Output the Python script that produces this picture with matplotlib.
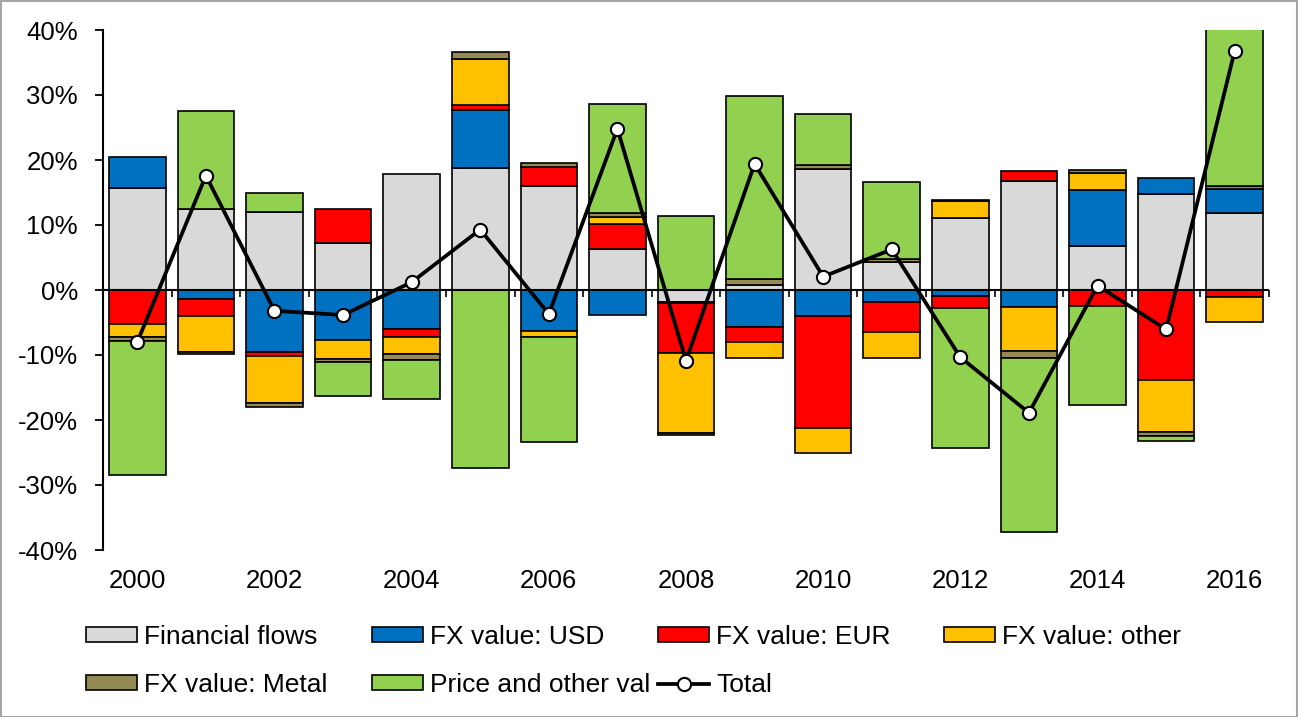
import matplotlib
matplotlib.use("Agg")
import matplotlib.pyplot as plt
from matplotlib.patches import Patch, Rectangle
from matplotlib.lines import Line2D
from matplotlib.ticker import FuncFormatter
import numpy as np

plt.rcParams['font.family'] = ['Liberation Sans', 'DejaVu Sans']
plt.rcParams['axes.unicode_minus'] = False

# ---- data (percent) ----
years = list(range(2000, 2017))
financial = [15.7, 12.4, 12.0, 7.3, 17.8, 18.8, 16.0, 6.3, -1.8, 0.8, 18.6, 4.25, 11.1, 16.75, 6.75, 14.75, 11.9]
usd = [4.7, -1.4, -9.6, -7.7, -6.0, 8.9, -6.3, -3.85, -0.2, -5.65, -3.95, -1.8, -0.9, -2.65, 8.65, 2.45, 3.7]
eur = [-5.3, -2.6, -0.5, 5.1, -1.2, 0.8, 3.0, 3.85, -7.75, -2.3, -17.35, -4.6, -1.9, 1.6, -2.45, -13.85, -1.0]
other = [-1.9, -5.6, -7.3, -2.9, -2.6, 7.1, -0.9, 1.15, -12.2, -2.45, -3.8, -4.0, 2.6, -6.75, 2.55, -7.95, -3.95]
metal = [-0.6, -0.3, -0.6, -0.5, -1.0, 1.0, 0.6, 0.5, -0.4, 0.9, 0.7, 0.5, 0.2, -1.1, 0.45, -0.6, 0.45]
price = [-20.6, 15.2, 2.9, -5.2, -5.9, -27.4, -16.2, 16.8, 11.45, 28.1, 7.8, 11.8, -21.45, -26.8, -15.3, -0.9, 25.7]
total = [-8.0, 17.6, -3.2, -3.85, 1.2, 9.3, -3.7, 24.8, -10.9, 19.4, 2.05, 6.25, -10.35, -18.9, 0.67, -6.05, 36.8]

series_names = ["Financial flows", "FX value: USD", "FX value: EUR", "FX value: other",
                "FX value: Metal", "Price and other val"]
series_values = [financial, usd, eur, other, metal, price]
series_colors = ["#D9D9D9", "#0070C0", "#FF0000", "#FFC000", "#948A54", "#92D050"]

W, H = 1298, 717
fig = plt.figure(figsize=(W / 100, H / 100), dpi=100)
ax = fig.add_axes([103 / W, 1 - 550 / H, (1269 - 103) / W, 520 / H])

x = np.arange(len(years))
pos_bottom = np.zeros(len(years))
neg_bottom = np.zeros(len(years))
for name, vals, col in zip(series_names, series_values, series_colors):
    v = np.array(vals, dtype=float)
    bottoms = np.where(v >= 0, pos_bottom, neg_bottom)
    ax.bar(x, v, width=0.825, bottom=bottoms, color=col, edgecolor='black',
           linewidth=1.2, zorder=2)
    pos_bottom = pos_bottom + np.where(v >= 0, v, 0)
    neg_bottom = neg_bottom + np.where(v < 0, v, 0)

# zero line and category boundary ticks
ax.axhline(0, color='black', lw=1.5, zorder=3)
ax.vlines(np.arange(len(years) + 1) - 0.5, 0, -1.1, color='black', lw=1.2, zorder=3,
          clip_on=False)

ax.plot(x, total, color='black', lw=2.7, marker='o', markersize=9.5,
        markerfacecolor='white', markeredgecolor='black', markeredgewidth=1.5, zorder=5)

ax.set_xlim(-0.5, len(years) - 0.5)
ax.set_ylim(-40, 40)
ax.set_yticks(np.arange(-40, 41, 10))
ax.yaxis.set_major_formatter(FuncFormatter(lambda v, p: f"{v:.0f}%"))
ax.set_xticks(x[::2])
ax.set_xticklabels([str(y) for y in years[::2]])
ax.tick_params(axis='x', length=0, pad=14, labelsize=18.5)
ax.tick_params(axis='y', length=6, width=1.3, direction='out', pad=12, labelsize=18.5)
for s in ['top', 'right', 'bottom']:
    ax.spines[s].set_visible(False)
ax.spines['left'].set_linewidth(1.5)

# legend: one legend per entry to match column grid
handles = [Patch(facecolor=c, edgecolor='black', linewidth=1.2) for c in series_colors]
handles.append(Line2D([], [], color='black', lw=2.7, marker='o', markersize=9.5,
                      markerfacecolor='white', markeredgecolor='black', markeredgewidth=1.5))
labels = series_names + ["Total"]
pos = [(86, 637), (372, 637), (658, 637), (944, 637),
       (86, 685), (372, 685), (658, 685)]
for h, lab, (px, py) in zip(handles, labels, pos):
    fig.legend([h], [lab], loc='center left', bbox_to_anchor=(px / W, 1 - py / H),
               bbox_transform=fig.transFigure, frameon=False, borderpad=0,
               borderaxespad=0, handlelength=1.95, handleheight=0.5,
               handletextpad=0.25, fontsize=19)

fig.patches.append(Rectangle((0.5 / W, 0.5 / H), 1 - 1.5 / W, 1 - 1.5 / H,
                             transform=fig.transFigure, fill=False,
                             edgecolor='#A6A6A6', linewidth=1.5))

fig.savefig('out.png', dpi=100)
